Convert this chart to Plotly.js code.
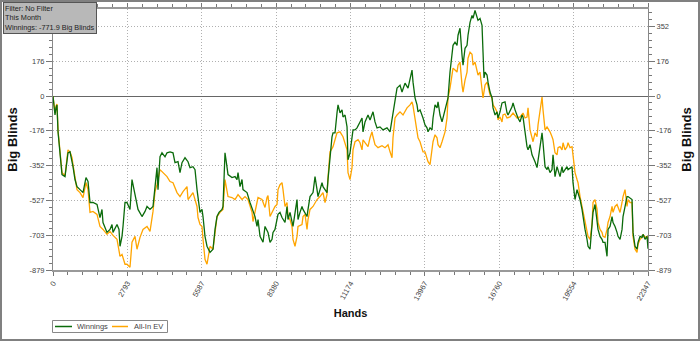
<!DOCTYPE html>
<html>
<head>
<meta charset="utf-8">
<script src="https://cdn.plot.ly/plotly-3.0.1.min.js"></script>
<style>html,body{margin:0;padding:0;background:#fff;}#chart{width:700px;height:341px;}</style>
</head>
<body>
<div id="chart"></div>
<script>
// Winnings (hands, big blinds)
var winHands = [
0,38,75,113,150,188,263,338,451,526,
563,639,714,751,826,901,1014,1127,1239,1315,
1390,1502,1653,1765,1840,1878,2028,2141,2216,2254,
2404,2479,2517,2592,2629,2704,2779,2892,2967,3080,
3193,3343,3456,3531,3643,3756,3831,3906,3944,4019,
4094,4207,4282,4395,4507,4582,4695,4770,4845,4958,
5071,5146,5258,5334,5409,5446,5521,5596,5634,5709,
5784,5897,6010,6085,6160,6235,6348,6385,6460,6498,
6573,6723,6836,6911,6949,7024,7099,7136,7287,7399,
7512,7587,7662,7700,7775,7888,7963,8075,8151,8226,
8263,8338,8451,8526,8601,8714,8789,8827,8902,8977,
9014,9165,9202,9277,9352,9390,9540,9578,9653,9766,
9841,9916,9953,10104,10141,10216,10291,10329,10404,10479,
10517,10592,10667,10705,10780,10855,10892,10968,11043,11080,
11155,11230,11268,11343,11418,11531,11606,11644,11719,11831,
11907,12019,12094,12169,12282,12395,12545,12658,12733,12770,
12846,12921,12958,13033,13108,13221,13334,13409,13484,13522,
13597,13672,13709,13785,13860,13897,13972,14047,14085,14160,
14235,14273,14348,14423,14461,14536,14611,14648,14724,14799,
14836,14911,14986,15024,15099,15174,15212,15287,15362,15400,
15475,15550,15587,15663,15738,15775,15850,15925,15963,16038,
16113,16151,16188,16226,16301,16339,16414,16489,16526,16602,
16677,16714,16789,16864,16977,17052,17090,17240,17278,17353,
17428,17465,17541,17616,17653,17728,17803,17841,17916,17991,
18029,18104,18179,18217,18292,18367,18404,18480,18555,18592,
18667,18742,18780,18855,18930,18968,19043,19118,19156,19231,
19306,19343,19419,19494,19531,19606,19681,19719,19794,19869,
19907,19982,20057,20095,20170,20245,20282,20358,20433,20470,
20545,20620,20658,20733,20808,20846,20921,20996,21034,21109,
21184,21221,21297,21372,21409,21484,21559,21597,21747,21785,
21860,21935,21973,22048,22123,22160,22236,22311,22347
];
var winBB = [
0,-40,-96,-60,-45,-181,-307,-397,-407,-307,
-287,-282,-322,-357,-422,-458,-473,-488,-412,-432,
-538,-538,-548,-614,-573,-639,-689,-674,-649,-689,
-649,-674,-759,-709,-659,-538,-538,-573,-422,-508,
-573,-609,-583,-558,-573,-558,-458,-362,-473,-307,
-287,-307,-287,-282,-287,-337,-332,-387,-337,-312,
-332,-362,-357,-372,-473,-508,-588,-573,-609,-709,
-759,-790,-774,-674,-609,-588,-573,-558,-287,-322,
-397,-412,-407,-422,-387,-458,-422,-473,-488,-538,
-588,-609,-659,-624,-709,-739,-659,-689,-739,-724,
-689,-674,-598,-588,-614,-639,-558,-624,-588,-639,
-659,-523,-624,-588,-558,-573,-609,-573,-508,-488,
-407,-473,-508,-438,-458,-473,-488,-422,-307,-206,
-186,-186,-85,-45,-85,-70,-106,-96,-156,-322,
-287,-221,-171,-171,-161,-131,-111,-181,-131,-96,
-121,-80,-131,-161,-156,-171,-161,-181,-121,-96,
-30,40,45,55,20,65,40,91,131,70,
-10,-45,-80,-70,-96,-111,-146,-161,-181,-161,
-171,-111,-45,-60,-30,-96,-131,-111,-60,-30,
-10,121,221,256,272,256,307,342,206,156,
241,256,307,372,407,392,432,392,382,392,
357,221,91,121,106,70,20,-10,-60,-96,
-80,-111,-80,-35,-30,-85,-96,-55,-35,-70,
-106,-111,-131,-96,-106,-186,-256,-272,-246,-297,
-307,-332,-362,-322,-272,-186,-236,-357,-372,-357,
-387,-372,-297,-407,-357,-372,-407,-357,-387,-372,
-357,-372,-362,-357,-438,-523,-473,-488,-523,-573,
-609,-674,-724,-759,-774,-674,-588,-548,-624,-674,
-709,-724,-739,-739,-810,-674,-659,-609,-639,-659,
-689,-709,-724,-674,-609,-558,-508,-508,-523,-689,
-759,-774,-739,-709,-714,-699,-724,-709,-771.9
];
// All-In EV (hands, big blinds)
var evHands = [
0,38,75,113,150,188,263,338,451,526,
563,639,714,751,826,901,1014,1127,1239,1315,
1390,1502,1653,1765,1878,2028,2141,2254,2404,2517,
2592,2704,2779,2892,2967,3080,3155,3268,3380,3531,
3643,3756,3831,3906,4019,4132,4282,4395,4507,4657,
4770,4883,5033,5071,5146,5258,5409,5446,5521,5596,
5634,5709,5784,5897,6010,6085,6160,6273,6385,6460,
6573,6723,6836,6949,7099,7212,7324,7475,7512,7662,
7700,7850,7963,8038,8075,8151,8226,8338,8413,8451,
8526,8601,8639,8714,8789,8827,8902,8977,9014,9089,
9165,9202,9352,9390,9465,9540,9578,9653,9766,9916,
10028,10141,10216,10291,10329,10404,10517,10592,10667,10780,
10892,11043,11080,11155,11230,11268,11343,11456,11531,11606,
11644,11719,11831,11907,11982,12019,12094,12207,12357,12470,
12583,12658,12733,12770,12846,12921,13033,13146,13296,13409,
13484,13522,13597,13672,13709,13785,13897,13972,14047,14085,
14160,14235,14273,14348,14423,14461,14536,14611,14648,14724,
14799,14836,14911,14986,15024,15099,15174,15212,15287,15362,
15400,15475,15550,15587,15663,15738,15775,15850,15925,15963,
16038,16113,16151,16226,16301,16339,16414,16489,16526,16602,
16677,16714,16789,16864,16902,16977,17052,17165,17278,17428,
17541,17653,17728,17803,17841,17916,17991,18029,18104,18179,
18217,18292,18367,18404,18480,18555,18667,18742,18780,18855,
18930,18968,19043,19118,19156,19231,19306,19343,19419,19494,
19531,19606,19681,19719,19794,19869,19907,19982,20057,20095,
20170,20245,20282,20358,20433,20470,20545,20620,20658,20733,
20808,20846,20921,20996,21034,21109,21184,21297,21372,21409,
21484,21559,21597,21672,21747,21785,21860,21935,21973,22048,
22123,22160,22236,22311,22347
];
var evBB = [
0,-40,-86,-50,-40,-171,-297,-387,-402,-297,
-272,-282,-312,-347,-422,-473,-488,-513,-437,-473,
-588,-583,-598,-659,-674,-699,-684,-704,-724,-810,
-800,-850,-850,-865,-739,-709,-774,-714,-674,-659,
-684,-583,-483,-448,-372,-387,-407,-432,-438,-488,
-508,-483,-458,-523,-508,-488,-558,-614,-649,-659,
-724,-825,-850,-759,-774,-674,-609,-588,-573,-422,
-508,-513,-523,-498,-523,-508,-523,-588,-634,-538,
-513,-523,-563,-513,-503,-609,-588,-558,-548,-473,
-448,-438,-473,-558,-538,-609,-624,-659,-724,-759,
-709,-659,-649,-609,-598,-674,-624,-573,-558,-523,
-508,-488,-538,-498,-412,-282,-256,-221,-186,-181,
-206,-272,-387,-422,-362,-272,-231,-221,-236,-272,
-221,-236,-256,-211,-181,-206,-246,-261,-251,-261,
-246,-282,-312,-211,-111,-96,-80,-96,-60,-45,
-30,-50,-111,-181,-211,-231,-282,-282,-312,-332,
-347,-261,-231,-196,-211,-246,-261,-231,-211,-181,
-111,-10,40,121,141,131,121,156,171,55,
20,80,121,191,221,211,156,171,121,106,
121,40,-10,55,70,50,5,-10,-45,-60,
-80,-121,-106,-131,-96,-91,-111,-106,-86,-111,
-106,-86,-111,-106,-60,-171,-206,-231,-186,-206,
-146,-86,-5,-70,-171,-156,-181,-206,-221,-287,
-297,-261,-256,-272,-236,-272,-256,-236,-261,-256,
-307,-387,-422,-438,-508,-558,-588,-624,-674,-709,
-724,-649,-538,-523,-573,-639,-674,-689,-709,-714,
-674,-639,-609,-558,-588,-558,-548,-588,-538,-508,
-473,-558,-523,-538,-538,-709,-774,-790,-749,-724,
-714,-699,-714,-709,-724
];
// Axis ticks
var xTickVals = [0,2793,5587,8380,11174,13967,16760,19554,22347];
var xTickText = ['0','2793','5587','8380','11174','13967','16760','19554','22347'];
var yTickVals = [-879,-703.2,-527.4,-351.6,-175.8,0,175.8,351.6];
var yTickText = ['-879','-703','-527','-352','-176','0','176','352'];
var seriesNames = ['Winnings','All-In EV'];
var seriesColors = ['#0b6b0b','#ffa500'];
var infoLines = ['Filter: No Filter','This Month','Winnings: -771.9 Big Blinds'];

var FONT = 'Liberation Sans, Arial, sans-serif';
var tickFont = {family: FONT, size: 7.5, color: '#444'};
var yRange = [-879, 439.5];

var traces = [
  {x: winHands, y: winBB, name: seriesNames[0], type: 'scatter', mode: 'lines',
   line: {color: seriesColors[0], width: 1.3}, yaxis: 'y2', hoverinfo: 'skip'},
  {x: evHands, y: evBB, name: seriesNames[1], type: 'scatter', mode: 'lines',
   line: {color: seriesColors[1], width: 1.3}, yaxis: 'y', hoverinfo: 'skip'}
];

var yCommon = {
  range: yRange, tickmode: 'array', tickvals: yTickVals, ticktext: yTickText,
  ticks: 'outside', ticklen: 6, tickcolor: '#777', tickfont: tickFont,
  linecolor: '#888', linewidth: 1, showline: true, automargin: false,
  minor: {tickmode: 'linear', tick0: 0, dtick: 35.16, ticks: 'outside', ticklen: 3, tickcolor: '#777', showgrid: false}
};

// pixel helpers for page furniture (frame, legend box) in paper units
function px(p) { return (p - 53) / 595; }
function py(p) { return (270 - p) / 261; }

var shapes = [
  {type: 'rect', xref: 'paper', yref: 'paper', x0: px(1), x1: px(699), y0: py(340), y1: py(1),
   line: {color: '#808080', width: 2}, fillcolor: 'rgba(0,0,0,0)', layer: 'above'},
  // legend box
  {type: 'rect', xref: 'paper', yref: 'paper', x0: px(52.5), x1: px(167.5), y0: py(332.5), y1: py(320.5),
   line: {color: '#888', width: 1}, fillcolor: '#fff', layer: 'above'},
  {type: 'line', xref: 'paper', yref: 'paper', x0: px(55), x1: px(72), y0: py(326.5), y1: py(326.5),
   line: {color: seriesColors[0], width: 1.5}, layer: 'above'},
  {type: 'line', xref: 'paper', yref: 'paper', x0: px(112), x1: px(128), y0: py(326.5), y1: py(326.5),
   line: {color: seriesColors[1], width: 1.5}, layer: 'above'}
];

var annotations = [
  {xref: 'paper', yref: 'paper', x: px(3), y: py(2),
   xanchor: 'left', yanchor: 'top', align: 'left', showarrow: false,
   text: infoLines.join('<br>'),
   font: {family: FONT, size: 7.3, color: '#222'},
   bgcolor: '#b8b8b8', bordercolor: '#555', borderwidth: 1, borderpad: 1},
  {xref: 'paper', yref: 'paper', x: px(75), y: py(326.5), xanchor: 'left', yanchor: 'middle',
   showarrow: false, text: seriesNames[0], font: {family: FONT, size: 7.5, color: '#444'}},
  {xref: 'paper', yref: 'paper', x: px(132), y: py(326.5), xanchor: 'left', yanchor: 'middle',
   showarrow: false, text: seriesNames[1], font: {family: FONT, size: 7.5, color: '#444'}}
];

var layout = {
  width: 700, height: 341,
  margin: {l: 53, r: 52, t: 9, b: 71, pad: 0, autoexpand: false},
  paper_bgcolor: '#fff', plot_bgcolor: '#fff',
  font: {family: FONT, color: '#333'},
  showlegend: false,
  xaxis: {
    range: [0, 22347], tickmode: 'array', tickvals: xTickVals, ticktext: xTickText,
    tickangle: -60, ticks: 'outside', ticklen: 4, tickcolor: '#777', tickfont: tickFont,
    showgrid: true, gridcolor: '#b0b0b0', griddash: '1px,2px', gridwidth: 1,
    zeroline: false, showline: true, linecolor: '#999', linewidth: 2, mirror: 'ticks',
    automargin: false,
    minor: {tickmode: 'linear', tick0: 0, dtick: 558.675, ticks: 'outside', ticklen: 3, tickcolor: '#777', showgrid: false},
    title: {text: '<b>Hands</b>', font: {family: FONT, size: 11, color: '#111'}, standoff: 8}
  },
  yaxis: Object.assign({}, yCommon, {
    side: 'left', showgrid: true, gridcolor: '#b0b0b0', griddash: '1px,2px', gridwidth: 1,
    zeroline: true, zerolinecolor: '#666', zerolinewidth: 1,
    title: {text: '<b>Big Blinds</b>', font: {family: FONT, size: 13, color: '#111'}}
  }),
  yaxis2: Object.assign({}, yCommon, {
    side: 'right', overlaying: 'y', showgrid: false, zeroline: false,
    title: {text: '<b>Big Blinds</b>', font: {family: FONT, size: 13, color: '#111'}}
  }),
  shapes: shapes,
  annotations: annotations
};

Plotly.newPlot('chart', traces, layout, {staticPlot: true, displayModeBar: false});
</script>
</body>
</html>
